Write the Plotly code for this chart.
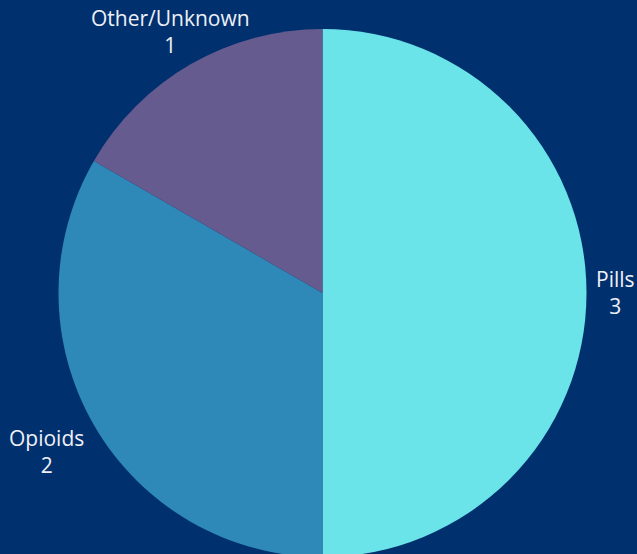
import math
import plotly.graph_objects as go

labels = ["Pills", "Opioids", "Other/Unknown"]
values = [3, 2, 1]
colors = ["#6AE4E8", "#2E88B8", "#655B8F"]

# layout geometry (style, not data)
W, H = 637, 557
ML, MR, MT, MB = 8, 0, 29, 0
LABEL_PAD = 8
label_xshift = [-1, -1, -16]
label_yshift = [1, 7, -4]

fig = go.Figure(go.Pie(
    labels=labels,
    values=values,
    sort=False,
    direction="clockwise",
    rotation=0,
    marker=dict(colors=colors, line=dict(width=0)),
    textinfo="none",
    showlegend=False,
    hoverinfo="label+value",
    domain=dict(x=[0, 1], y=[0, 1]),
))

pw, ph = W - ML - MR, H - MT - MB
cx, cy = ML + pw / 2, MT + ph / 2
r = min(pw, ph) / 2
total = sum(values)
acc = 0
for i, (lab, val) in enumerate(zip(labels, values)):
    mid = (acc + val / 2) / total * 2 * math.pi
    acc += val
    ux, uy = math.sin(mid), -math.cos(mid)  # screen coords, y down
    px = cx + (r + LABEL_PAD) * ux
    py = cy + (r + LABEL_PAD) * uy
    xa = "left" if ux > 0.6 else ("right" if ux < -0.6 else "center")
    ya = "top" if uy > 0.3 else ("bottom" if uy < -0.3 else "middle")
    fig.add_annotation(
        x=(px - ML) / pw, y=1 - (py - MT) / ph,
        xref="paper", yref="paper",
        text=f"{lab}<br>{val}",
        showarrow=False,
        xanchor=xa, yanchor=ya,
        xshift=label_xshift[i],
        yshift=label_yshift[i],
        align="center",
        font=dict(family="Open Sans", size=21, color="#EEF0F6"),
    )

fig.update_layout(
    width=W,
    height=H,
    margin=dict(l=ML, r=MR, t=MT, b=MB),
    paper_bgcolor="#01306F",
    plot_bgcolor="#01306F",
)

fig.write_html(
    "out.html",
    config={"displayModeBar": False},
    post_script="document.body.style.margin='0';document.body.style.overflow='hidden';document.documentElement.style.overflow='hidden';",
)
